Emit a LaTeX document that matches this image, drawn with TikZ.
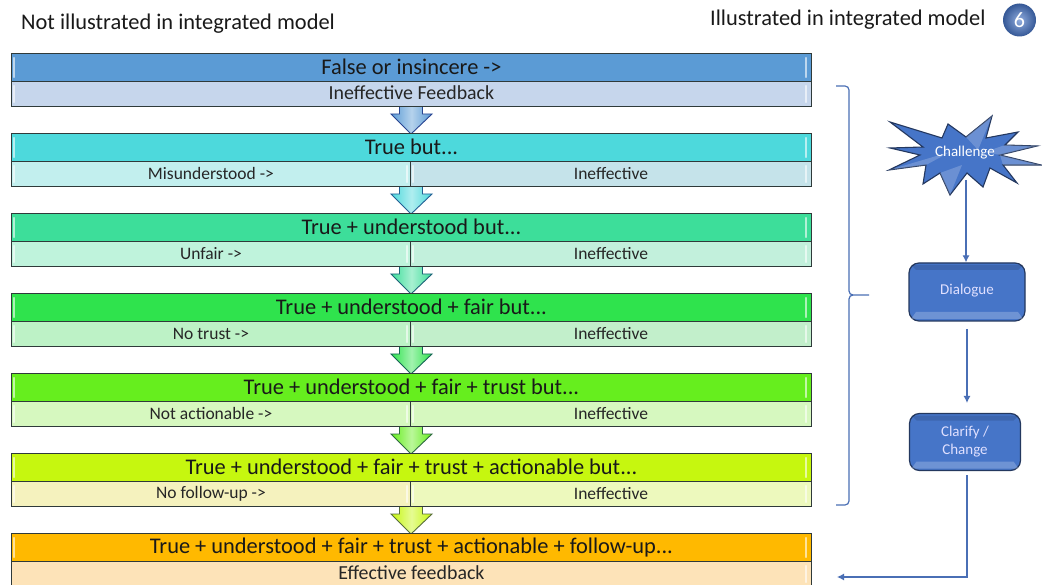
\documentclass[tikz,border=0pt]{standalone}
\usepackage{fontspec}
\setmainfont{Carlito}
\usetikzlibrary{shapes.geometric,arrows.meta,calc}
\definecolor{linkblue}{HTML}{4A6FB5}
\definecolor{shapeblue}{HTML}{4675C8}
\definecolor{edgedark}{HTML}{2F3A3A}
\definecolor{edgeblue}{HTML}{24385F}
\tikzset{
 x=1pt,y=-1pt,
 headbox/.style={draw=edgedark,line width=.9pt,minimum width=800pt,minimum height=28pt,anchor=north west,inner sep=0pt,text=black!90,font=\fontsize{22.4}{24}\selectfont},
 subbox/.style={draw=edgedark,line width=.9pt,minimum height=25pt,anchor=north west,inner sep=0pt,text=black!85,font=\fontsize{17.5}{20}\selectfont},
 bigsub/.style={subbox,font=\fontsize{19.9}{22}\selectfont},
 flowlink/.style={draw=linkblue,line width=1.2pt,-{Latex[length=7pt,width=7pt]}},
 bracelink/.style={draw=linkblue,line width=1.2pt},
 bluebox/.style={draw=edgeblue,line width=1.2pt,rounded corners=10pt,inner sep=0pt,fill=shapeblue},
 boxtext/.style={inner sep=0pt,align=center,text=white!88!blue,font=\fontsize{15}{18}\selectfont},
 gloss/.style={white,opacity=.6,line width=2.2pt,line cap=round},
 facet/.style={fill=white,opacity=.2},
 toplabel/.style={anchor=west,inner sep=0pt,text=black!90,font=\fontsize{22.4}{24}\selectfont},
}
% row: #1 name, #2 top y, #3 head colour, #4 left colour, #5 right colour, #6 title, #7 left text
\newcommand{\flowrow}[7]{
 \node[headbox,fill=#3] (#1h) at (11,#2) {\raisebox{1pt}{#6}};
 \node[subbox,fill=#4,minimum width=399pt] (#1l) at (11,#2+28) {\raisebox{1pt}{#7}};
 \node[subbox,fill=#5,minimum width=401pt] (#1r) at (410,#2+28) {\raisebox{1pt}{Ineffective}};
 \draw[gloss] (14,#2+5) -- (14,#2+24);
 \draw[gloss] (14,#2+33) -- (14,#2+49);
 \draw[gloss] (806,#2+5) -- (806,#2+24);
 \draw[gloss] (806,#2+33) -- (806,#2+49);
 \draw[gloss] (407,#2+33) -- (407,#2+49);
 \draw[gloss] (413,#2+33) -- (413,#2+49);
}
% arrow: #1 top y, #2 colour
\newcommand{\flowarrow}[2]{
 \path[left color=#2,right color=#2,middle color=#2!45!white,draw=black!45!#2!80!blue,line width=.9pt]
  (399.5,#1) -- (422.5,#1) -- (422.5,#1+8) -- (432,#1+8) -- (411,#1+28) -- (391,#1+8) -- (399.5,#1+8) -- cycle;
}
% bevel strips on a blue box: #1 left x, #2 right x, #3 top y, #4 bottom y
\newcommand{\bevel}[4]{
 \fill[white,opacity=.22] (#1+7,#4-9) -- (#2-7,#4-9) -- (#2-2,#4-2) -- (#1+2,#4-2) -- cycle;
 \fill[black,opacity=.12] (#1+2,#3+2) -- (#2-2,#3+2) -- (#2-7,#3+7) -- (#1+7,#3+7) -- cycle;
}
\definecolor{h1}{HTML}{5B9BD5}\definecolor{l1}{HTML}{C6D6EC}
\definecolor{h2}{HTML}{4DD9DC}\definecolor{l2}{HTML}{C2EFEE}\definecolor{r2}{HTML}{C5E3EA}
\definecolor{h3}{HTML}{3DDE9A}\definecolor{l3}{HTML}{BFF3DC}\definecolor{r3}{HTML}{C2F0DC}
\definecolor{h4}{HTML}{2FE34D}\definecolor{l4}{HTML}{BDF2C6}\definecolor{r4}{HTML}{C2EFCB}
\definecolor{h5}{HTML}{66EE1E}\definecolor{l5}{HTML}{D6F8BF}\definecolor{r5}{HTML}{D6F8BF}
\definecolor{h6}{HTML}{C6F70F}\definecolor{l6}{HTML}{F5F2BE}\definecolor{r6}{HTML}{EDF9BD}
\definecolor{h7}{HTML}{FFB900}\definecolor{l7}{HTML}{FDE3B8}
\begin{document}
\begin{tikzpicture}
\useasboundingbox (0,0) rectangle (1042,585);
\fill[white] (0,0) rectangle (1042,585);
% arrows
\flowarrow{106}{h1}
\flowarrow{186}{h2}
\flowarrow{266}{h3}
\flowarrow{346}{h4}
\flowarrow{426}{h5}
\flowarrow{506}{h6}
% first row
\node[headbox,fill=h1] (r1h) at (11,53) {\raisebox{1pt}{False or insincere ->}};
\node[bigsub,fill=l1,minimum width=800pt] (r1s) at (11,81) {\raisebox{2pt}{Ineffective Feedback}};
\draw[gloss] (14,58) -- (14,77); \draw[gloss] (14,86) -- (14,102);
\draw[gloss] (806,58) -- (806,77); \draw[gloss] (806,86) -- (806,102);
\flowrow{r2}{133}{h2}{l2}{r2}{True but...}{Misunderstood ->}
\flowrow{r3}{213}{h3}{l3}{r3}{True + understood but...}{Unfair ->}
\flowrow{r4}{293}{h4}{l4}{r4}{True + understood + fair but...}{No trust ->}
\flowrow{r5}{373}{h5}{l5}{r5}{True + understood + fair + trust but...}{Not actionable ->}
\flowrow{r6}{453}{h6}{l6}{r6}{True + understood + fair + trust + actionable but...}{No follow-up ->}
% last row
\node[headbox,fill=h7] (r7h) at (11,533) {\raisebox{1pt}{True + understood + fair + trust + actionable + follow-up...}};
\node[bigsub,fill=l7,minimum width=800pt] (r7s) at (11,561) {\raisebox{2pt}{Effective feedback}};
\draw[gloss] (14,538) -- (14,557); \draw[gloss] (806,538) -- (806,557); \draw[gloss] (806,566) -- (806,582);
% top labels
\node[toplabel] (tl) at (21,24) {Not illustrated in integrated model};
\node[toplabel] (tr) at (710,20) {Illustrated in integrated model};
\node[circle,minimum size=33pt,inner sep=0pt,draw=none,inner color=shapeblue!60!white,outer color=shapeblue!75!black,text=white,font=\fontsize{22}{24}\selectfont] (badge) at (1019.5,20) {6};
% brace
\coordinate (bt) at (836,86);
\coordinate (bb) at (836,505);
\coordinate (bm) at (869,295);
\draw[bracelink] (bt) -- (845,86) to[out=0,in=90] (849,90) -- (849,291) to[out=270,in=180] (853,295) -- (bm);
\draw[bracelink] (bb) -- (845,505) to[out=0,in=270] (849,501) -- (849,299) to[out=90,in=180] (853,295);
% star
\path[draw=edgeblue,line width=1.1pt,fill=shapeblue]
 (890,122) -- (942,138) -- (948,124) -- (966,137) -- (992,116) -- (986,138) -- (1018,132) -- (1005,145) -- (1037,146) -- (1000,155) -- (1041,165) -- (1003,165) -- (1017,183) -- (990,168) -- (983,187) -- (967,173) -- (950,195) -- (940,173) -- (923,184) -- (926,165) -- (889,170) -- (920,155) -- (890,148) -- (923,147) -- cycle;
\fill[facet] (966,137) -- (992,116) -- (978,150) -- cycle;
\fill[facet] (1005,145) -- (1037,146) -- (1000,155) -- (985,152) -- cycle;
\fill[facet] (926,165) -- (889,170) -- (950,152) -- cycle;
\fill[facet] (950,195) -- (940,173) -- (962,165) -- cycle;
\fill[facet] (1003,165) -- (1041,165) -- (1000,155) -- cycle;
\node[boxtext,text=white] (challenge) at (965,153) {Challenge};
% boxes
\node[bluebox,minimum width=116pt,minimum height=58pt] (dialogue) at (967,292) {};
\bevel{909}{1025}{263}{321}
\node[boxtext] (dialoguetext) at (967,291) {Dialogue};
\node[bluebox,minimum width=111pt,minimum height=57pt] (clarify) at (965,442) {};
\bevel{909.5}{1020.5}{413.5}{470.5}
\node[boxtext] (clarifytext) at (965,442) {Clarify /\\Change};
\coordinate (cs) at (966,180);
\draw[flowlink] (cs) -- (cs |- dialogue.north);
\coordinate (ds) at (967,329);
\coordinate (de) at (967,403);
\draw[flowlink] (ds) -- (de);
\coordinate (cc) at (967,475);
\coordinate (fb) at (837,577);
\draw[flowlink] (cc) |- (fb);
\end{tikzpicture}
\end{document}
